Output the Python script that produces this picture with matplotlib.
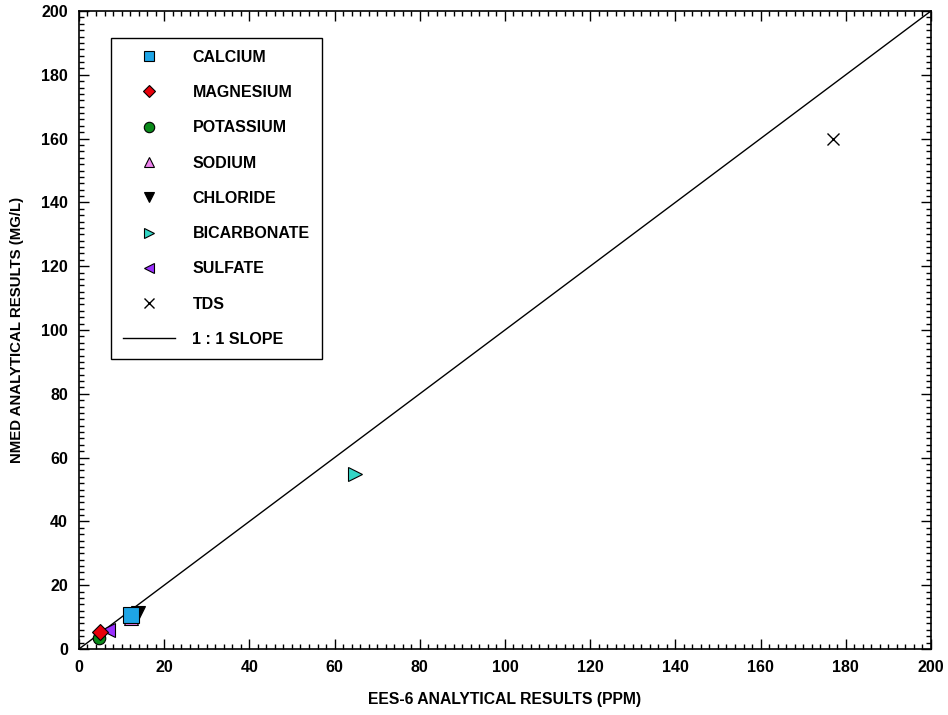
import matplotlib.pyplot as plt
from matplotlib.ticker import MultipleLocator

plt.rcParams['font.family'] = ['Liberation Sans', 'DejaVu Sans']
plt.rcParams['font.weight'] = 'bold'

# EES-6 (ppm) vs NMED (mg/L)
names = ['CALCIUM', 'MAGNESIUM', 'POTASSIUM', 'SODIUM', 'CHLORIDE',
         'BICARBONATE', 'SULFATE', 'TDS']
ees6 = [12.3, 5.0, 4.6, 12.3, 13.8, 64.8, 6.7, 177.0]
nmed = [10.8, 5.2, 3.6, 9.8, 11.2, 55.0, 5.9, 160.0]
markers = ['s', 'D', 'o', '^', 'v', '>', '<', 'x']
colors = ['#1ea5e6', '#e8000b', '#0a8a1a', '#ee82ee', 'black',
          '#33d6c6', '#9b30ff', 'black']
sizes = [12, 8.5, 9, 10, 10, 10, 10, 9]
legend_sizes = [7.5, 6, 7.5, 7.5, 7.5, 7.5, 7.5, 7.5]
layer = [6, 6, 4, 4, 4, 4, 5, 4]

slope_x = [0, 200]
slope_y = [0, 200]

fig = plt.figure(figsize=(9.48, 7.15), dpi=100)
ax = fig.add_axes([0.0833, 0.0923, 0.8987, 0.8923])

for i in range(len(names)):
    if markers[i] == 'x':
        ax.plot(ees6[i], nmed[i], linestyle='none', marker='x', color='black',
                markersize=sizes[i], markeredgewidth=1.0, label=names[i],
                zorder=layer[i])
    else:
        ax.plot(ees6[i], nmed[i], linestyle='none', marker=markers[i],
                markerfacecolor=colors[i], markeredgecolor='black',
                markeredgewidth=0.8, markersize=sizes[i], label=names[i],
                zorder=layer[i])

ax.plot(slope_x, slope_y, color='black', linewidth=1.0, label='1 : 1 SLOPE',
        zorder=3)

ax.set_xlim(0, 200)
ax.set_ylim(0, 200)
ax.xaxis.set_major_locator(MultipleLocator(20))
ax.yaxis.set_major_locator(MultipleLocator(20))
ax.xaxis.set_minor_locator(MultipleLocator(2))
ax.yaxis.set_minor_locator(MultipleLocator(2))
ax.tick_params(which='both', direction='in', top=True, right=True,
               labelsize=11.5, width=1.0, pad=8)
ax.tick_params(which='major', length=7)
ax.tick_params(which='minor', length=3.5)
for lab in ax.get_xticklabels() + ax.get_yticklabels():
    lab.set_fontweight('bold')
for s in ax.spines.values():
    s.set_linewidth(1.2)

ax.set_xlabel('EES-6 ANALYTICAL RESULTS (PPM)', fontsize=11.3, fontweight='bold',
              labelpad=12)
ax.set_ylabel('NMED ANALYTICAL RESULTS (MG/L)', fontsize=10.8, fontweight='bold',
              labelpad=12)

leg = ax.legend(loc='upper left', bbox_to_anchor=(0.0376, 0.958), fontsize=11.5,
                labelspacing=1.27, handlelength=3.25,
                handletextpad=1.1, borderpad=0.75, fancybox=False,
                edgecolor='black', framealpha=1, borderaxespad=0)
leg.get_frame().set_linewidth(1.0)
for h, ms in zip(leg.legend_handles, legend_sizes):
    h.set_markersize(ms)
for t in leg.get_texts():
    t.set_fontweight('bold')

fig.savefig('out.png', dpi=100)
